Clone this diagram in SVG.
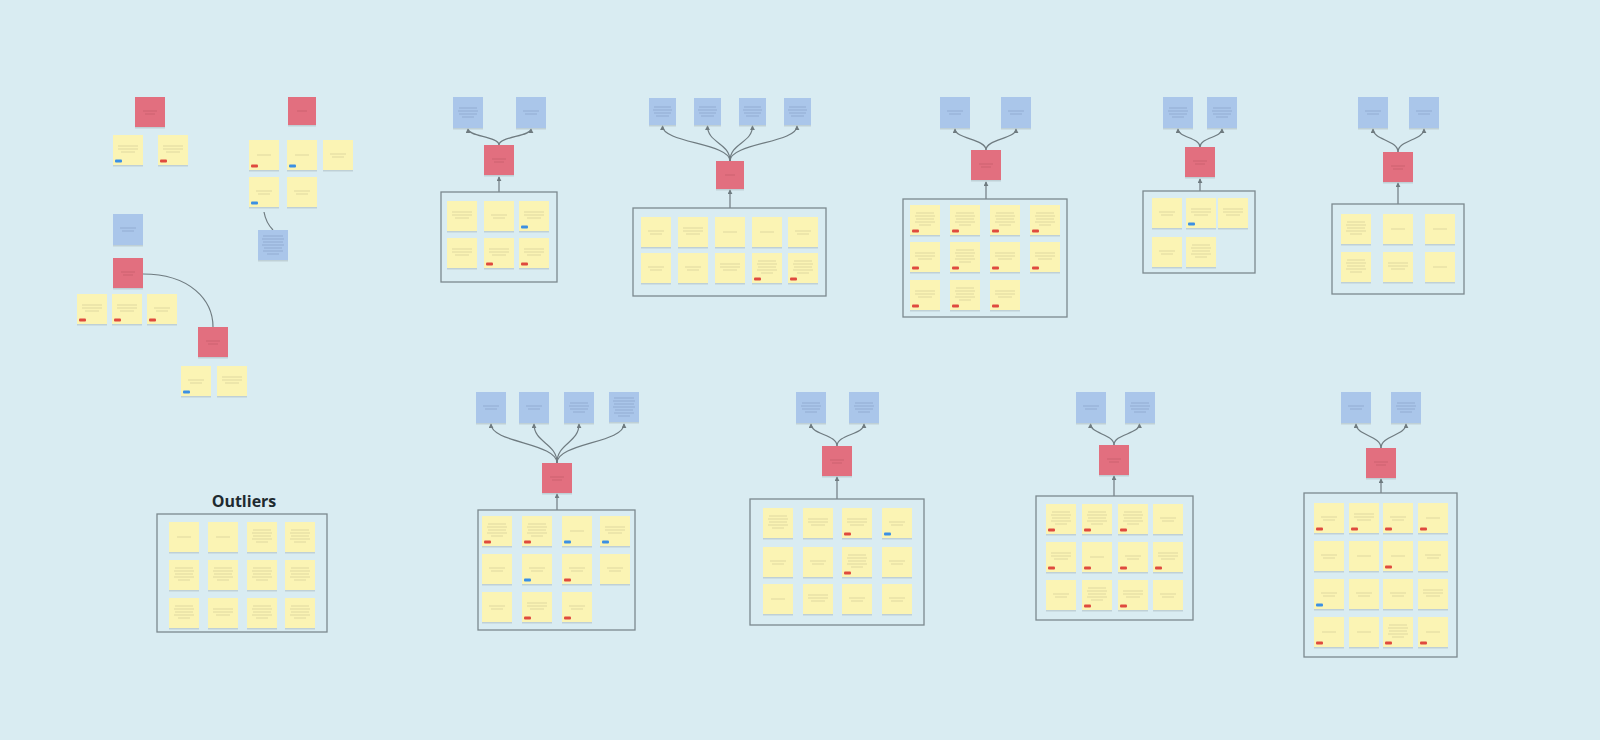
<svg xmlns="http://www.w3.org/2000/svg" xmlns:xlink="http://www.w3.org/1999/xlink" width="1600" height="740" viewBox="0 0 1600 740">
<style>
.y{fill:#fbf4b4}
.r{fill:#e26f7f}
.b{fill:#aac6ea}
.sh{fill:#9fb0b4;opacity:.45}
.tl{stroke:#8f8d6c;stroke-width:.7;opacity:.38;fill:none}
.tr{stroke:#8e3a46;stroke-width:.7;opacity:.35;fill:none}
.tb{stroke:#56708f;stroke-width:.7;opacity:.4;fill:none}
.box{fill:none;stroke:#7b898e;stroke-width:1.3}
.con path{fill:none;stroke:#6f7b80;stroke-width:1.2}
.arr{marker-end:url(#ah)}
.ttl{font-family:"Open Sans","DejaVu Sans",sans-serif;font-weight:700;font-size:16px;fill:#1e2a30}
</style>
<defs>
<marker id="ah" viewBox="0 0 6 6" refX="5" refY="3" markerWidth="5" markerHeight="5" orient="auto" markerUnits="userSpaceOnUse"><path d="M0,0L6,3L0,6z" fill="#6f7b80"/></marker>
<g id="ya"><rect class="sh" x="0" y="1.5" width="30" height="30"/><rect class="y" width="30" height="30"/><path class="tl" d="M7,14h16M9,17h12"/></g>
<g id="yb"><rect class="sh" x="0" y="1.5" width="30" height="30"/><rect class="y" width="30" height="30"/><path class="tl" d="M5,11h20M5,14h20M8,17h14"/></g>
<g id="yc"><rect class="sh" x="0" y="1.5" width="30" height="30"/><rect class="y" width="30" height="30"/><path class="tl" d="M6,8h18M5,11h20M6,14h18M5,17h20M9,20h12"/></g>
<g id="yd"><rect class="sh" x="0" y="1.5" width="30" height="30"/><rect class="y" width="30" height="30"/><path class="tl" d="M8,15h14"/></g>
<g id="ra"><rect class="sh" x="0" y="1.5" width="30" height="30"/><rect class="r" width="30" height="30"/><path class="tr" d="M8,14h14M10,17h10"/></g>
<g id="r28"><rect class="sh" x="0" y="1.5" width="28" height="28"/><rect class="r" width="28" height="28"/><path class="tr" d="M9,14h10"/></g>
<g id="ba"><rect class="sh" x="0" y="1.5" width="30" height="31"/><rect class="b" width="30" height="31"/><path class="tb" d="M6,11h18M5,14h20M6,17h18M9,20h12"/></g>
<g id="bb"><rect class="sh" x="0" y="1.5" width="30" height="31"/><rect class="b" width="30" height="31"/><path class="tb" d="M7,14h16M9,17h12"/></g>
<g id="b27"><rect class="sh" x="0" y="1.5" width="27" height="27"/><rect class="b" width="27" height="27"/><path class="tb" d="M5,9h17M4,12h19M5,15h17M7,18h13"/></g>
<g id="bt"><rect class="sh" x="0" y="1.5" width="30" height="30"/><rect class="b" width="30" height="30"/><path class="tb" d="M5,6h20M4,9h22M5,12h20M4,15h22M6,18h18M5,21h20M9,24h12"/></g>
<rect id="rt" width="7" height="3" rx="1" fill="#df4a3e"/>
<rect id="bl" width="7" height="3" rx="1" fill="#3b8fe3"/>
</defs>
<rect width="1600" height="740" fill="#d9ecf2"/>

<g id="connectors" class="con">
<path d="M264,212 Q266,223 273,230"/>
<path d="M143,274 C190,274 213,300 213,327"/>
<path class="arr" d="M499,145 C499,136.5 468,136.5 468,129"/>
<path class="arr" d="M499,145 C499,136.5 531,136.5 531,129"/>
<path class="arr" d="M499,192 L499,177"/>
<path class="arr" d="M730,161 C730,143 662.5,143 662.5,126"/>
<path class="arr" d="M730,161 C730,143 707.5,143 707.5,126"/>
<path class="arr" d="M730,161 C730,143 752.5,143 752.5,126"/>
<path class="arr" d="M730,161 C730,143 797,143 797,126"/>
<path class="arr" d="M730,208 L730,190"/>
<path class="arr" d="M986,150 C986,139 955,139 955,129"/>
<path class="arr" d="M986,150 C986,139 1016,139 1016,129"/>
<path class="arr" d="M986,199 L986,182"/>
<path class="arr" d="M1200,147 C1200,137.5 1178,137.5 1178,129"/>
<path class="arr" d="M1200,147 C1200,137.5 1222,137.5 1222,129"/>
<path class="arr" d="M1200,191 L1200,179"/>
<path class="arr" d="M1398,152 C1398,140 1373,140 1373,129"/>
<path class="arr" d="M1398,152 C1398,140 1424,140 1424,129"/>
<path class="arr" d="M1398,204 L1398,183"/>
<path class="arr" d="M557,463 C557,443 491,443 491,424"/>
<path class="arr" d="M557,463 C557,443 534,443 534,424"/>
<path class="arr" d="M557,463 C557,443 579,443 579,424"/>
<path class="arr" d="M557,463 C557,443 624,443 624,424"/>
<path class="arr" d="M557,510 L557,494"/>
<path class="arr" d="M837,446 C837,434.5 811,434.5 811,424"/>
<path class="arr" d="M837,446 C837,434.5 864,434.5 864,424"/>
<path class="arr" d="M837,499 L837,477"/>
<path class="arr" d="M1114,445 C1114,434 1090.5,434 1090.5,424"/>
<path class="arr" d="M1114,445 C1114,434 1139.5,434 1139.5,424"/>
<path class="arr" d="M1114,496 L1114,476"/>
<path class="arr" d="M1381,448 C1381,435.5 1356,435.5 1356,424"/>
<path class="arr" d="M1381,448 C1381,435.5 1406,435.5 1406,424"/>
<path class="arr" d="M1381,493 L1381,479"/>
</g>

<g id="boxes">
<rect id="box-t1" class="box" x="441" y="192" width="116" height="90"/>
<rect id="box-t2" class="box" x="633" y="208" width="193" height="88"/>
<rect id="box-t3" class="box" x="903" y="199" width="164" height="118"/>
<rect id="box-t4" class="box" x="1143" y="191" width="112" height="82"/>
<rect id="box-t5" class="box" x="1332" y="204" width="132" height="90"/>
<rect id="box-b1" class="box" x="478" y="510" width="157" height="120"/>
<rect id="box-b2" class="box" x="750" y="499" width="174" height="126"/>
<rect id="box-b3" class="box" x="1036" y="496" width="157" height="124"/>
<rect id="box-b4" class="box" x="1304" y="493" width="153" height="164"/>
<rect id="box-out" class="box" x="157" y="514" width="170" height="118"/>
</g>

<!-- Cluster A -->
<g id="a-r"><use href="#ra" x="135" y="97"/></g>
<g id="a-y1"><use href="#yb" x="113" y="135"/><use href="#bl" x="115" y="159.5"/></g>
<g id="a-y2"><use href="#yb" x="158" y="135"/><use href="#rt" x="160" y="159.5"/></g>

<!-- Cluster B -->
<g id="b-r"><use href="#r28" x="288" y="97"/></g>
<g id="b-y1"><use href="#yd" x="249" y="140"/><use href="#rt" x="251" y="164.5"/></g>
<g id="b-y2"><use href="#yd" x="287" y="140"/><use href="#bl" x="289" y="164.5"/></g>
<g id="b-y3"><use href="#ya" x="323" y="140"/></g>
<g id="b-y4"><use href="#ya" x="249" y="177"/><use href="#bl" x="251" y="201.5"/></g>
<g id="b-y5"><use href="#ya" x="287" y="177"/></g>
<g id="b-bl"><use href="#bt" x="258" y="230"/></g>

<!-- Cluster C -->
<g id="c-b"><use href="#bb" x="113" y="214"/></g>
<g id="c-r"><use href="#ra" x="113" y="258"/></g>
<g id="c-y1"><use href="#yb" x="77" y="294"/><use href="#rt" x="79" y="318.5"/></g>
<g id="c-y2"><use href="#yb" x="112" y="294"/><use href="#rt" x="114" y="318.5"/></g>
<g id="c-y3"><use href="#ya" x="147" y="294"/><use href="#rt" x="149" y="318.5"/></g>
<g id="d-r"><use href="#ra" x="198" y="327"/></g>
<g id="d-y1"><use href="#ya" x="181" y="366"/><use href="#bl" x="183" y="390.5"/></g>
<g id="d-y2"><use href="#yb" x="217" y="366"/></g>

<!-- Outliers -->
<g id="outliers">
<text class="ttl" x="244" y="507" text-anchor="middle">Outliers</text>
<g id="o1"><use href="#yd" x="169" y="522"/></g>
<g id="o2"><use href="#yd" x="208" y="522"/></g>
<g id="o3"><use href="#yc" x="247" y="522"/></g>
<g id="o4"><use href="#yc" x="285" y="522"/></g>
<g id="o5"><use href="#yc" x="169" y="560"/></g>
<g id="o6"><use href="#yc" x="208" y="560"/></g>
<g id="o7"><use href="#yc" x="247" y="560"/></g>
<g id="o8"><use href="#yc" x="285" y="560"/></g>
<g id="o9"><use href="#yc" x="169" y="598"/></g>
<g id="o10"><use href="#yb" x="208" y="598"/></g>
<g id="o11"><use href="#yc" x="247" y="598"/></g>
<g id="o12"><use href="#yc" x="285" y="598"/></g>
</g>

<!-- T1 -->
<g id="t1-b1"><use href="#ba" x="453" y="97"/></g>
<g id="t1-b2"><use href="#bb" x="516" y="97"/></g>
<g id="t1-r"><use href="#ra" x="484" y="145"/></g>
<g id="t1-y1"><use href="#yb" x="447" y="201"/></g>
<g id="t1-y2"><use href="#ya" x="484" y="201"/></g>
<g id="t1-y3"><use href="#yb" x="519" y="201"/><use href="#bl" x="521" y="225.5"/></g>
<g id="t1-y4"><use href="#yb" x="447" y="238"/></g>
<g id="t1-y5"><use href="#yb" x="484" y="238"/><use href="#rt" x="486" y="262.5"/></g>
<g id="t1-y6"><use href="#yb" x="519" y="238"/><use href="#rt" x="521" y="262.5"/></g>

<!-- T2 -->
<g id="t2-b1"><use href="#b27" x="649" y="98"/></g>
<g id="t2-b2"><use href="#b27" x="694" y="98"/></g>
<g id="t2-b3"><use href="#b27" x="739" y="98"/></g>
<g id="t2-b4"><use href="#b27" x="784" y="98"/></g>
<g id="t2-r"><use href="#r28" x="716" y="161"/></g>
<g id="t2-y1"><use href="#ya" x="641" y="217"/></g>
<g id="t2-y2"><use href="#yb" x="678" y="217"/></g>
<g id="t2-y3"><use href="#yd" x="715" y="217"/></g>
<g id="t2-y4"><use href="#yd" x="752" y="217"/></g>
<g id="t2-y5"><use href="#ya" x="788" y="217"/></g>
<g id="t2-y6"><use href="#ya" x="641" y="253"/></g>
<g id="t2-y7"><use href="#ya" x="678" y="253"/></g>
<g id="t2-y8"><use href="#yb" x="715" y="253"/></g>
<g id="t2-y9"><use href="#yc" x="752" y="253"/><use href="#rt" x="754" y="277.5"/></g>
<g id="t2-y10"><use href="#yc" x="788" y="253"/><use href="#rt" x="790" y="277.5"/></g>

<!-- T3 -->
<g id="t3-b1"><use href="#bb" x="940" y="97"/></g>
<g id="t3-b2"><use href="#bb" x="1001" y="97"/></g>
<g id="t3-r"><use href="#ra" x="971" y="150"/></g>
<g id="t3-y1"><use href="#yc" x="910" y="205"/><use href="#rt" x="912" y="229.5"/></g>
<g id="t3-y2"><use href="#yc" x="950" y="205"/><use href="#rt" x="952" y="229.5"/></g>
<g id="t3-y3"><use href="#yc" x="990" y="205"/><use href="#rt" x="992" y="229.5"/></g>
<g id="t3-y4"><use href="#yc" x="1030" y="205"/><use href="#rt" x="1032" y="229.5"/></g>
<g id="t3-y5"><use href="#yb" x="910" y="242"/><use href="#rt" x="912" y="266.5"/></g>
<g id="t3-y6"><use href="#yc" x="950" y="242"/><use href="#rt" x="952" y="266.5"/></g>
<g id="t3-y7"><use href="#yb" x="990" y="242"/><use href="#rt" x="992" y="266.5"/></g>
<g id="t3-y8"><use href="#yb" x="1030" y="242"/><use href="#rt" x="1032" y="266.5"/></g>
<g id="t3-y9"><use href="#yb" x="910" y="280"/><use href="#rt" x="912" y="304.5"/></g>
<g id="t3-y10"><use href="#yc" x="950" y="280"/><use href="#rt" x="952" y="304.5"/></g>
<g id="t3-y11"><use href="#yb" x="990" y="280"/><use href="#rt" x="992" y="304.5"/></g>

<!-- T4 -->
<g id="t4-b1"><use href="#ba" x="1163" y="97"/></g>
<g id="t4-b2"><use href="#ba" x="1207" y="97"/></g>
<g id="t4-r"><use href="#ra" x="1185" y="147"/></g>
<g id="t4-y1"><use href="#ya" x="1152" y="198"/></g>
<g id="t4-y2"><use href="#yb" x="1186" y="198"/><use href="#bl" x="1188" y="222.5"/></g>
<g id="t4-y3"><use href="#yb" x="1218" y="198"/></g>
<g id="t4-y4"><use href="#ya" x="1152" y="237"/></g>
<g id="t4-y5"><use href="#yc" x="1186" y="237"/></g>

<!-- T5 -->
<g id="t5-b1"><use href="#bb" x="1358" y="97"/></g>
<g id="t5-b2"><use href="#bb" x="1409" y="97"/></g>
<g id="t5-r"><use href="#ra" x="1383" y="152"/></g>
<g id="t5-y1"><use href="#yc" x="1341" y="214"/></g>
<g id="t5-y2"><use href="#yd" x="1383" y="214"/></g>
<g id="t5-y3"><use href="#yd" x="1425" y="214"/></g>
<g id="t5-y4"><use href="#yc" x="1341" y="252"/></g>
<g id="t5-y5"><use href="#yb" x="1383" y="252"/></g>
<g id="t5-y6"><use href="#yd" x="1425" y="252"/></g>

<!-- B1 -->
<g id="b1-b1"><use href="#bb" x="476" y="392"/></g>
<g id="b1-b2"><use href="#bb" x="519" y="392"/></g>
<g id="b1-b3"><use href="#ba" x="564" y="392"/></g>
<g id="b1-b4"><use href="#bt" x="609" y="392"/></g>
<g id="b1-r"><use href="#ra" x="542" y="463"/></g>
<g id="b1-y1"><use href="#yc" x="482" y="516"/><use href="#rt" x="484" y="540.5"/></g>
<g id="b1-y2"><use href="#yc" x="522" y="516"/><use href="#rt" x="524" y="540.5"/></g>
<g id="b1-y3"><use href="#yd" x="562" y="516"/><use href="#bl" x="564" y="540.5"/></g>
<g id="b1-y4"><use href="#yb" x="600" y="516"/><use href="#bl" x="602" y="540.5"/></g>
<g id="b1-y5"><use href="#ya" x="482" y="554"/></g>
<g id="b1-y6"><use href="#ya" x="522" y="554"/><use href="#bl" x="524" y="578.5"/></g>
<g id="b1-y7"><use href="#ya" x="562" y="554"/><use href="#rt" x="564" y="578.5"/></g>
<g id="b1-y8"><use href="#ya" x="600" y="554"/></g>
<g id="b1-y9"><use href="#ya" x="482" y="592"/></g>
<g id="b1-y10"><use href="#yb" x="522" y="592"/><use href="#rt" x="524" y="616.5"/></g>
<g id="b1-y11"><use href="#ya" x="562" y="592"/><use href="#rt" x="564" y="616.5"/></g>

<!-- B2 -->
<g id="b2-b1"><use href="#ba" x="796" y="392"/></g>
<g id="b2-b2"><use href="#ba" x="849" y="392"/></g>
<g id="b2-r"><use href="#ra" x="822" y="446"/></g>
<g id="b2-y1"><use href="#yc" x="763" y="508"/></g>
<g id="b2-y2"><use href="#yb" x="803" y="508"/></g>
<g id="b2-y3"><use href="#yb" x="842" y="508"/><use href="#rt" x="844" y="532.5"/></g>
<g id="b2-y4"><use href="#ya" x="882" y="508"/><use href="#bl" x="884" y="532.5"/></g>
<g id="b2-y5"><use href="#ya" x="763" y="547"/></g>
<g id="b2-y6"><use href="#ya" x="803" y="547"/></g>
<g id="b2-y7"><use href="#yc" x="842" y="547"/><use href="#rt" x="844" y="571.5"/></g>
<g id="b2-y8"><use href="#ya" x="882" y="547"/></g>
<g id="b2-y9"><use href="#yd" x="763" y="584"/></g>
<g id="b2-y10"><use href="#yb" x="803" y="584"/></g>
<g id="b2-y11"><use href="#ya" x="842" y="584"/></g>
<g id="b2-y12"><use href="#ya" x="882" y="584"/></g>

<!-- B3 -->
<g id="b3-b1"><use href="#bb" x="1076" y="392"/></g>
<g id="b3-b2"><use href="#ba" x="1125" y="392"/></g>
<g id="b3-r"><use href="#ra" x="1099" y="445"/></g>
<g id="b3-y1"><use href="#yc" x="1046" y="504"/><use href="#rt" x="1048" y="528.5"/></g>
<g id="b3-y2"><use href="#yc" x="1082" y="504"/><use href="#rt" x="1084" y="528.5"/></g>
<g id="b3-y3"><use href="#yc" x="1118" y="504"/><use href="#rt" x="1120" y="528.5"/></g>
<g id="b3-y4"><use href="#ya" x="1153" y="504"/></g>
<g id="b3-y5"><use href="#yb" x="1046" y="542"/><use href="#rt" x="1048" y="566.5"/></g>
<g id="b3-y6"><use href="#yd" x="1082" y="542"/><use href="#rt" x="1084" y="566.5"/></g>
<g id="b3-y7"><use href="#ya" x="1118" y="542"/><use href="#rt" x="1120" y="566.5"/></g>
<g id="b3-y8"><use href="#yb" x="1153" y="542"/><use href="#rt" x="1155" y="566.5"/></g>
<g id="b3-y9"><use href="#ya" x="1046" y="580"/></g>
<g id="b3-y10"><use href="#yc" x="1082" y="580"/><use href="#rt" x="1084" y="604.5"/></g>
<g id="b3-y11"><use href="#yb" x="1118" y="580"/><use href="#rt" x="1120" y="604.5"/></g>
<g id="b3-y12"><use href="#ya" x="1153" y="580"/></g>

<!-- B4 -->
<g id="b4-b1"><use href="#bb" x="1341" y="392"/></g>
<g id="b4-b2"><use href="#ba" x="1391" y="392"/></g>
<g id="b4-r"><use href="#ra" x="1366" y="448"/></g>
<g id="b4-y1"><use href="#ya" x="1314" y="503"/><use href="#rt" x="1316" y="527.5"/></g>
<g id="b4-y2"><use href="#yb" x="1349" y="503"/><use href="#rt" x="1351" y="527.5"/></g>
<g id="b4-y3"><use href="#ya" x="1383" y="503"/><use href="#rt" x="1385" y="527.5"/></g>
<g id="b4-y4"><use href="#yd" x="1418" y="503"/><use href="#rt" x="1420" y="527.5"/></g>
<g id="b4-y5"><use href="#ya" x="1314" y="541"/></g>
<g id="b4-y6"><use href="#yd" x="1349" y="541"/></g>
<g id="b4-y7"><use href="#yd" x="1383" y="541"/><use href="#rt" x="1385" y="565.5"/></g>
<g id="b4-y8"><use href="#ya" x="1418" y="541"/></g>
<g id="b4-y9"><use href="#ya" x="1314" y="579"/><use href="#bl" x="1316" y="603.5"/></g>
<g id="b4-y10"><use href="#ya" x="1349" y="579"/></g>
<g id="b4-y11"><use href="#ya" x="1383" y="579"/></g>
<g id="b4-y12"><use href="#yb" x="1418" y="579"/></g>
<g id="b4-y13"><use href="#yd" x="1314" y="617"/><use href="#rt" x="1316" y="641.5"/></g>
<g id="b4-y14"><use href="#yd" x="1349" y="617"/></g>
<g id="b4-y15"><use href="#yc" x="1383" y="617"/><use href="#rt" x="1385" y="641.5"/></g>
<g id="b4-y16"><use href="#yd" x="1418" y="617"/><use href="#rt" x="1420" y="641.5"/></g>
</svg>
